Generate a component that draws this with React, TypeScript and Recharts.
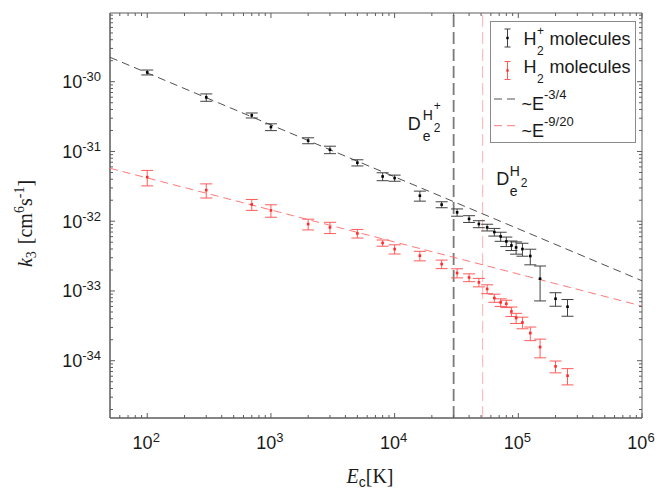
import React from 'react';
import {
  ScatterChart,
  Scatter,
  XAxis,
  YAxis,
  ErrorBar,
  ReferenceLine,
  ReferenceArea,
  Legend,
} from 'recharts';

// ---------------- data ----------------
const energies = [
  100, 300, 700, 1000, 2000, 3000, 5000, 8000, 10000, 16000, 24000, 32000, 40000,
  48000, 56000, 64000, 72000, 80000, 88000, 96000, 108000, 125000, 150000, 200000, 250000,
];

const hPlusK3 = [
  1.36e-30, 5.96e-31, 3.29e-31, 2.24e-31, 1.43e-31, 1.06e-31, 6.9e-32, 4.38e-32, 4.16e-32,
  2.32e-32, 1.73e-32, 1.34e-32, 1.08e-32, 9.12e-33, 8.15e-33, 7.0e-33, 6.05e-33, 5.13e-33,
  4.5e-33, 4.21e-33, 3.99e-33, 3.17e-33, 1.5e-33, 7.74e-34, 5.94e-34,
];
const hPlusErr = [
  1.1e-31, 7.2e-32, 2.7e-32, 2.5e-32, 1.4e-32, 1.3e-32, 7e-33, 5.7e-33, 4.2e-33, 3.8e-33,
  1.7e-33, 1.6e-33, 1.2e-33, 1.05e-33, 9e-34, 8.8e-34, 9e-34, 8e-34, 7e-34, 8.4e-34, 8.4e-34,
  8e-34, 7.8e-34, 1.7e-34, 1.6e-34,
];

const h2K3 = [
  4.28e-32, 2.79e-32, 1.74e-32, 1.43e-32, 9.1e-33, 8.15e-33, 6.68e-33, 4.88e-33, 3.99e-33,
  3.2e-33, 2.43e-33, 1.81e-33, 1.56e-33, 1.33e-33, 1.07e-33, 7.93e-34, 6.86e-34, 6.57e-34,
  5.09e-34, 4.1e-34, 3.54e-34, 2.49e-34, 1.57e-34, 8.3e-35, 6.1e-35,
];
const h2Err = [
  1.07e-32, 6.4e-33, 3.1e-33, 2.9e-33, 1.6e-33, 1.5e-33, 9.4e-34, 5e-34, 6e-34, 5e-34, 3.4e-34,
  2.7e-34, 2e-34, 1.85e-34, 1.55e-34, 1.05e-34, 8.6e-35, 7.9e-35, 7.9e-35, 6.8e-35, 6.7e-35,
  5.5e-35, 4.7e-35, 1.6e-35, 1.6e-35,
];

// power-law guide lines (end points)
const fitX = [50, 1e6];
const fitHPlus = [2.24e-30, 1.4e-33]; // ~E^-3/4
const fitH2 = [5.74e-32, 6.08e-34]; // ~E^-9/20

// dissociation energies (vertical markers)
const dissocHPlus = 3.0e4;
const dissocH2 = 5.15e4;

const X_DOMAIN: [number, number] = [50, 1e6];
const Y_DOMAIN: [number, number] = [1.51e-35, 9.66e-30];

const xMajorTicks = [100, 1000, 10000, 100000, 1000000];
const yMajorTicks = [1e-34, 1e-33, 1e-32, 1e-31, 1e-30];
const xDecades = [10, 100, 1000, 10000, 100000];
const yDecades = [1e-35, 1e-34, 1e-33, 1e-32, 1e-31, 1e-30];
const minorMult = [2, 3, 4, 5, 6, 7, 8, 9];

// ---------------- tables ----------------
const hPlusData = energies.map((x, i) => ({ x, y: hPlusK3[i], err: hPlusErr[i] }));
const h2Data = energies.map((x, i) => ({ x, y: h2K3[i], err: h2Err[i] }));
const fitHPlusData = fitX.map((x, i) => ({ x, y: fitHPlus[i] }));
const fitH2Data = fitX.map((x, i) => ({ x, y: fitH2[i] }));

function buildTicks(majors: number[], decades: number[], dom: [number, number]) {
  const out: number[] = [...majors];
  decades.forEach((d) => minorMult.forEach((m) => {
    const v = m * d;
    if (v > dom[0] * 1.0001 && v < dom[1] * 0.9999) out.push(v);
  }));
  return out.sort((a, b) => a - b);
}
const xTicks = buildTicks(xMajorTicks, xDecades, X_DOMAIN);
const yTicks = buildTicks(yMajorTicks, yDecades, Y_DOMAIN);

// ---------------- styling ----------------
const SANS = "'Liberation Sans', Arial, Helvetica, sans-serif";
const SERIF = "'Liberation Serif', 'Times New Roman', serif";
const AX = '#5c5c5c';
const TXT = '#1a1a1a';
const BLK_ERR = '#404040';
const RED = '#ff2a2a';
const RED_ERR = '#ff5c5c';

const W = 664;
const H = 491;
const MARGIN = { top: 13, right: 22, bottom: 14, left: 10 };
const Y_AXIS_W = 100;
const X_AXIS_H = 59;
const PLOT_TOP = MARGIN.top;
const PLOT_RIGHT = W - MARGIN.right;

const isMajor = (v: number) => Math.abs(Math.log10(v) - Math.round(Math.log10(v))) < 1e-6;

const XTick = (props: any) => {
  const { x, y, payload } = props;
  const v = payload.value;
  const major = isMajor(v);
  const len = major ? 5 : 3;
  const e = Math.round(Math.log10(v));
  return (
    <g>
      <line x1={x} x2={x} y1={y} y2={y - len} stroke={AX} strokeWidth={1} />
      <line x1={x} x2={x} y1={PLOT_TOP} y2={PLOT_TOP + len} stroke={AX} strokeWidth={1} />
      {major && (
        <text x={x - 1} y={y + 31} textAnchor="middle" fontFamily={SANS} fontSize={18} fill={TXT}>
          10
          <tspan dy={-7} fontSize={13}>{e}</tspan>
        </text>
      )}
    </g>
  );
};

const YTick = (props: any) => {
  const { x, y, payload } = props;
  const v = payload.value;
  const major = isMajor(v);
  const len = major ? 5 : 3;
  const e = Math.round(Math.log10(v));
  return (
    <g>
      <line x1={x} x2={x + len} y1={y} y2={y} stroke={AX} strokeWidth={1} />
      <line x1={PLOT_RIGHT} x2={PLOT_RIGHT - len} y1={y} y2={y} stroke={AX} strokeWidth={1} />
      {major && (
        <text x={x - 9} y={y + 6.5} textAnchor="end" fontFamily={SANS} fontSize={18} fill={TXT}>
          10
          <tspan dy={-7} fontSize={13}>{`-${Math.abs(e)}`}</tspan>
        </text>
      )}
    </g>
  );
};

const XTitle = (props: any) => {
  const vb = props.viewBox || { x: 110, y: 418, width: 532, height: 59 };
  const cx = vb.x + vb.width / 2 - 6;
  const by = vb.y + 65;
  return (
    <text x={cx} y={by} textAnchor="middle" fontFamily={SERIF} fontSize={20} fill={TXT}>
      <tspan fontStyle="italic">E</tspan>
      <tspan fontFamily={SANS} fontSize={14} dy={4}>c</tspan>
      <tspan dy={-4}>[K]</tspan>
    </text>
  );
};

const YTitle = (props: any) => {
  const vb = props.viewBox || { x: 10, y: 13, width: 100, height: 405 };
  const bx = vb.x + 22;
  const cy = vb.y + vb.height / 2 + 8;
  return (
    <text
      x={bx}
      y={cy}
      transform={`rotate(-90, ${bx}, ${cy})`}
      textAnchor="middle"
      fontFamily={SERIF}
      fontSize={20}
      fill={TXT}
    >
      <tspan fontStyle="italic">k</tspan>
      <tspan fontSize={14} dy={4}>3</tspan>
      <tspan dy={-4} dx={7}>[cm</tspan>
      <tspan fontSize={14} dy={-8}>6</tspan>
      <tspan dy={8}>s</tspan>
      <tspan fontSize={14} dy={-8}>-1</tspan>
      <tspan dy={8}>]</tspan>
    </text>
  );
};

const DHPlusLabel = (props: any) => {
  const vb = props.viewBox || {};
  const x = vb.x;
  const y = vb.y;
  return (
    <g fontFamily={SANS} fill={TXT}>
      <text x={x - 46} y={y + 117} fontSize={18}>D</text>
      <text x={x - 31} y={y + 107} fontSize={14}>H</text>
      <text x={x - 31} y={y + 127.7} fontSize={14}>e</text>
      <text x={x - 20} y={y + 118.5} fontSize={12}>2</text>
      <text x={x - 20} y={y + 97} fontSize={12}>+</text>
    </g>
  );
};

const DH2Label = (props: any) => {
  const vb = props.viewBox || {};
  const x = vb.x;
  const y = vb.y;
  return (
    <g fontFamily={SANS} fill={TXT}>
      <text x={x + 13.7} y={y + 172} fontSize={18}>D</text>
      <text x={x + 27} y={y + 163} fontSize={14}>H</text>
      <text x={x + 27} y={y + 183} fontSize={14}>e</text>
      <text x={x + 38} y={y + 173.7} fontSize={12}>2</text>
    </g>
  );
};

const BlackDot = (p: any) => (
  <rect x={p.cx - 1.3} y={p.cy - 1.3} width={2.6} height={2.6} fill="#000" />
);
const RedDot = (p: any) => (
  <rect x={p.cx - 1.3} y={p.cy - 1.3} width={2.6} height={2.6} fill={RED} />
);
const NoShape = () => <g />;

const ErrIcon = ({ cx, cy, half, stroke, fill }: any) => (
  <g>
    <line x1={cx} x2={cx} y1={cy - half} y2={cy + half} stroke={stroke} />
    <line x1={cx - 3} x2={cx + 3} y1={cy - half} y2={cy - half} stroke={stroke} />
    <line x1={cx - 3} x2={cx + 3} y1={cy + half} y2={cy + half} stroke={stroke} />
    <rect x={cx - 1.2} y={cy - 1.2} width={2.4} height={2.4} fill={fill} />
  </g>
);

const LegendBox = () => (
  <svg width={146} height={122} style={{ display: 'block' }}>
    <rect x={0.5} y={0.5} width={145} height={121} fill="#fff" stroke="#8a8a8a" strokeWidth={1} />
    <g fontFamily={SANS} fill={TXT}>
      <ErrIcon cx={17.5} cy={17} half={9} stroke={BLK_ERR} fill="#000" />
      <text x={33.5} y={23.5} fontSize={18}>H</text>
      <text x={47} y={33.5} fontSize={12}>2</text>
      <text x={47} y={14} fontSize={12}>+</text>
      <text x={59.5} y={23.5} fontSize={18}>molecules</text>

      <ErrIcon cx={17.5} cy={49.5} half={9} stroke={RED_ERR} fill={RED} />
      <text x={33.5} y={52} fontSize={18}>H</text>
      <text x={47} y={62} fontSize={12}>2</text>
      <text x={59.5} y={52} fontSize={18}>molecules</text>

      <line x1={4} x2={26} y1={78} y2={78} stroke="#555" strokeWidth={1} strokeDasharray="8 5" />
      <text x={31.5} y={89} fontSize={18}>
        ~E
        <tspan dy={-11} fontSize={13}>-3/4</tspan>
      </text>

      <line x1={4} x2={26} y1={104.7} y2={104.7} stroke="#ff7a7a" strokeWidth={1} strokeDasharray="8 5" />
      <text x={31.5} y={115.5} fontSize={18}>
        ~E
        <tspan dy={-11} fontSize={13}>-9/20</tspan>
      </text>
    </g>
  </svg>
);

export default function App() {
  return (
    <div style={{ position: 'absolute', left: 0, top: 0, width: W, height: H, background: '#fff' }}>
      <ScatterChart width={W} height={H} margin={MARGIN}>
        <XAxis
          dataKey="x"
          type="number"
          scale="log"
          domain={X_DOMAIN}
          allowDataOverflow
          ticks={xTicks}
          interval={0}
          tickSize={0}
          tickMargin={0}
          tickLine={false}
          axisLine={{ stroke: AX }}
          tick={<XTick />}
          height={X_AXIS_H}
          label={<XTitle />}
        />
        <YAxis
          dataKey="y"
          type="number"
          scale="log"
          domain={Y_DOMAIN}
          allowDataOverflow
          ticks={yTicks}
          interval={0}
          tickSize={0}
          tickMargin={0}
          tickLine={false}
          axisLine={{ stroke: AX }}
          tick={<YTick />}
          width={Y_AXIS_W}
          label={<YTitle />}
        />
        <ReferenceArea
          x1={X_DOMAIN[0]}
          x2={X_DOMAIN[1]}
          y1={Y_DOMAIN[0]}
          y2={Y_DOMAIN[1]}
          fill="none"
          fillOpacity={0}
          stroke={AX}
          strokeWidth={1}
          ifOverflow="visible"
        />
        <Scatter
          data={fitHPlusData}
          line={{ stroke: '#3c3c3c', strokeWidth: 0.9, strokeDasharray: '8 5' }}
          shape={<NoShape />}
          isAnimationActive={false}
          legendType="none"
        />
        <Scatter
          data={fitH2Data}
          line={{ stroke: '#ff6a6a', strokeWidth: 0.9, strokeDasharray: '8 5' }}
          shape={<NoShape />}
          isAnimationActive={false}
          legendType="none"
        />
        <ReferenceLine
          x={dissocHPlus}
          stroke="#7a7a7a"
          strokeWidth={1.8}
          strokeDasharray="12 5"
          label={<DHPlusLabel />}
        />
        <ReferenceLine
          x={dissocH2}
          stroke="#ffb0b0"
          strokeWidth={1}
          strokeDasharray="12 5"
          label={<DH2Label />}
        />
        <Scatter data={hPlusData} shape={<BlackDot />} isAnimationActive={false}>
          <ErrorBar dataKey="err" direction="y" width={6} stroke={BLK_ERR} strokeWidth={1} isAnimationActive={false} />
        </Scatter>
        <Scatter data={h2Data} shape={<RedDot />} isAnimationActive={false}>
          <ErrorBar dataKey="err" direction="y" width={6} stroke={RED_ERR} strokeWidth={1} isAnimationActive={false} />
        </Scatter>
        <Legend
          layout="horizontal"
          verticalAlign="middle"
          align="center"
          content={() => <LegendBox />}
          wrapperStyle={{ position: 'absolute', left: 489.5, top: 21, width: 146, height: 122, margin: 0, padding: 0 }}
        />
      </ScatterChart>
    </div>
  );
}
